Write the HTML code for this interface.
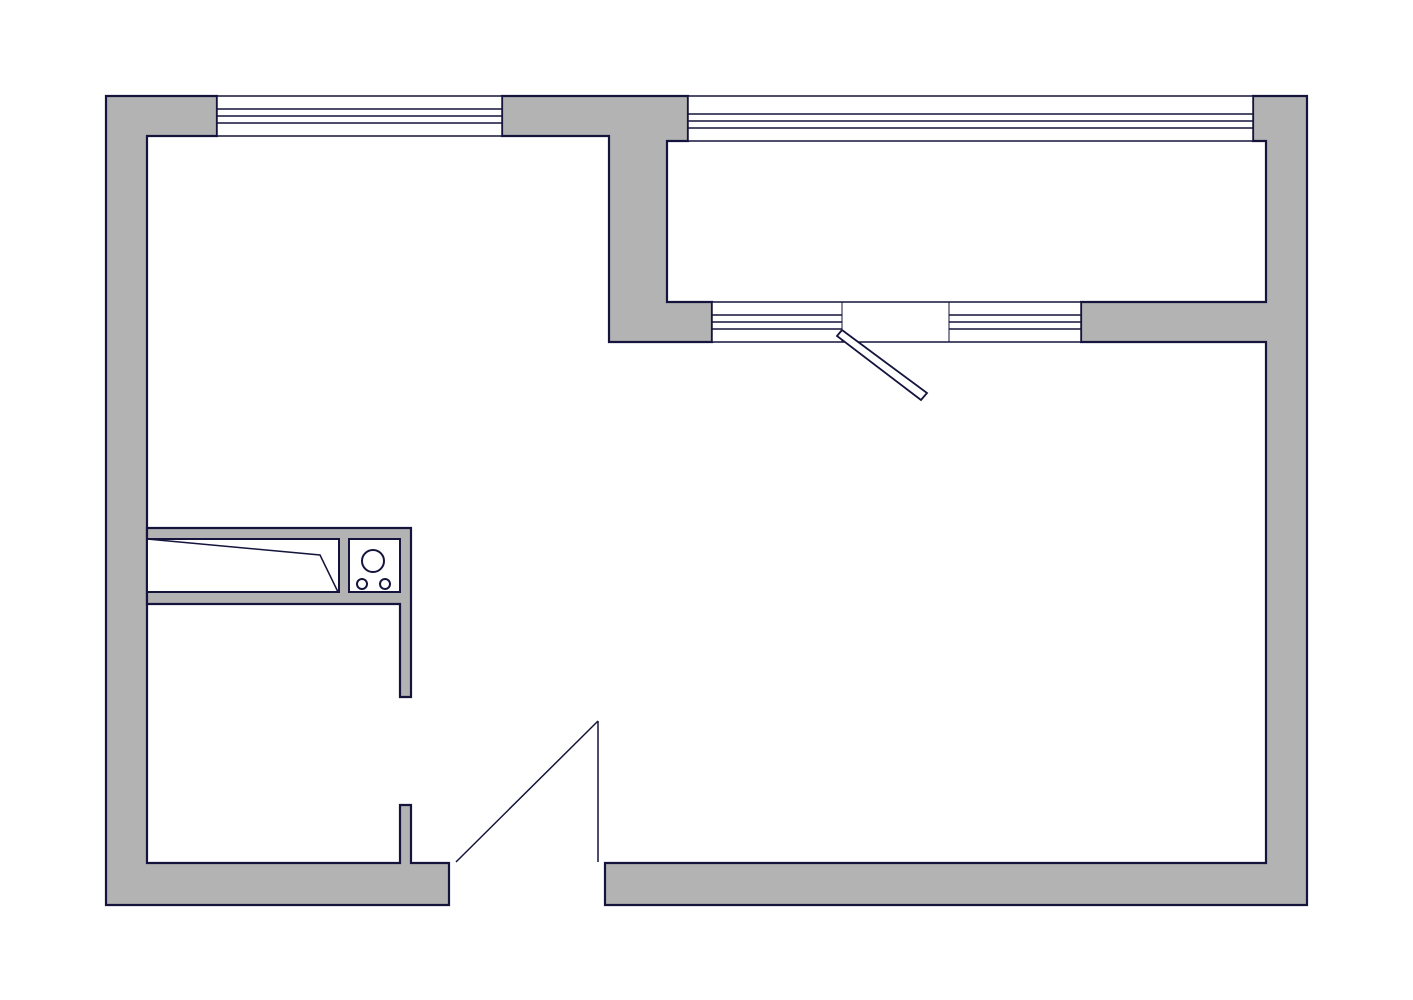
<!DOCTYPE html>
<html><head><meta charset="utf-8"><style>html,body{margin:0;padding:0;background:#fff}svg{display:block}</style></head>
<body>
<svg width="1413" height="1000" viewBox="0 0 1413 1000" xmlns="http://www.w3.org/2000/svg">
<g fill="#b3b3b3" stroke="#14143c" stroke-width="2.2" stroke-linejoin="miter">
<polygon points="106,96 217,96 217,136 147,136 147,863 400,863 400,805 411,805 411,863 449,863 449,905 106,905"/>
<polygon points="502,96 688,96 688,141 667,141 667,302 712,302 712,342 609,342 609,136 502,136"/>
<polygon points="1253,96 1307,96 1307,905 605,905 605,863 1266,863 1266,342 1081,342 1081,302 1266,302 1266,141 1253,141"/>
<polygon points="147,528 411,528 411,697 400,697 400,604 147,604"/>
</g>
<g fill="#fff" stroke="#14143c" stroke-width="2">
<rect x="147" y="539" width="192" height="53"/>
<rect x="349" y="539" width="51" height="53"/>
<circle cx="373" cy="561" r="11"/>
<circle cx="362" cy="584" r="5"/>
<circle cx="385" cy="584" r="5"/>
</g>
<polyline points="147,539 320,555 338,592" fill="none" stroke="#14143c" stroke-width="1.5"/>
<!-- windows -->
<g fill="#fff" stroke="#14143c" stroke-width="1.5">
<rect x="217" y="96" width="285" height="40"/>
<line x1="217" y1="109" x2="502" y2="109"/><line x1="217" y1="116" x2="502" y2="116"/><line x1="217" y1="123" x2="502" y2="123"/>
<rect x="688" y="96" width="565" height="45"/>
<line x1="688" y1="114" x2="1253" y2="114"/><line x1="688" y1="121" x2="1253" y2="121"/><line x1="688" y1="128" x2="1253" y2="128"/>
<rect x="712" y="302" width="369" height="40"/>
<line x1="712" y1="315" x2="842" y2="315"/><line x1="712" y1="322" x2="842" y2="322"/><line x1="712" y1="329" x2="842" y2="329"/>
<line x1="949" y1="315" x2="1081" y2="315"/><line x1="949" y1="322" x2="1081" y2="322"/><line x1="949" y1="329" x2="1081" y2="329"/>
<line x1="842" y1="302" x2="842" y2="342" stroke-width="1"/><line x1="949" y1="302" x2="949" y2="342" stroke-width="1"/>
</g>
<polygon points="837,336 842,330 927,393 921,400" fill="#fff" stroke="#14143c" stroke-width="1.8"/>
<!-- entrance door -->
<g stroke="#14143c" stroke-width="1.5" fill="none">
<line x1="456" y1="862" x2="598" y2="721"/>
<line x1="598" y1="721" x2="598" y2="862"/>
</g>
</svg>
</body></html>
